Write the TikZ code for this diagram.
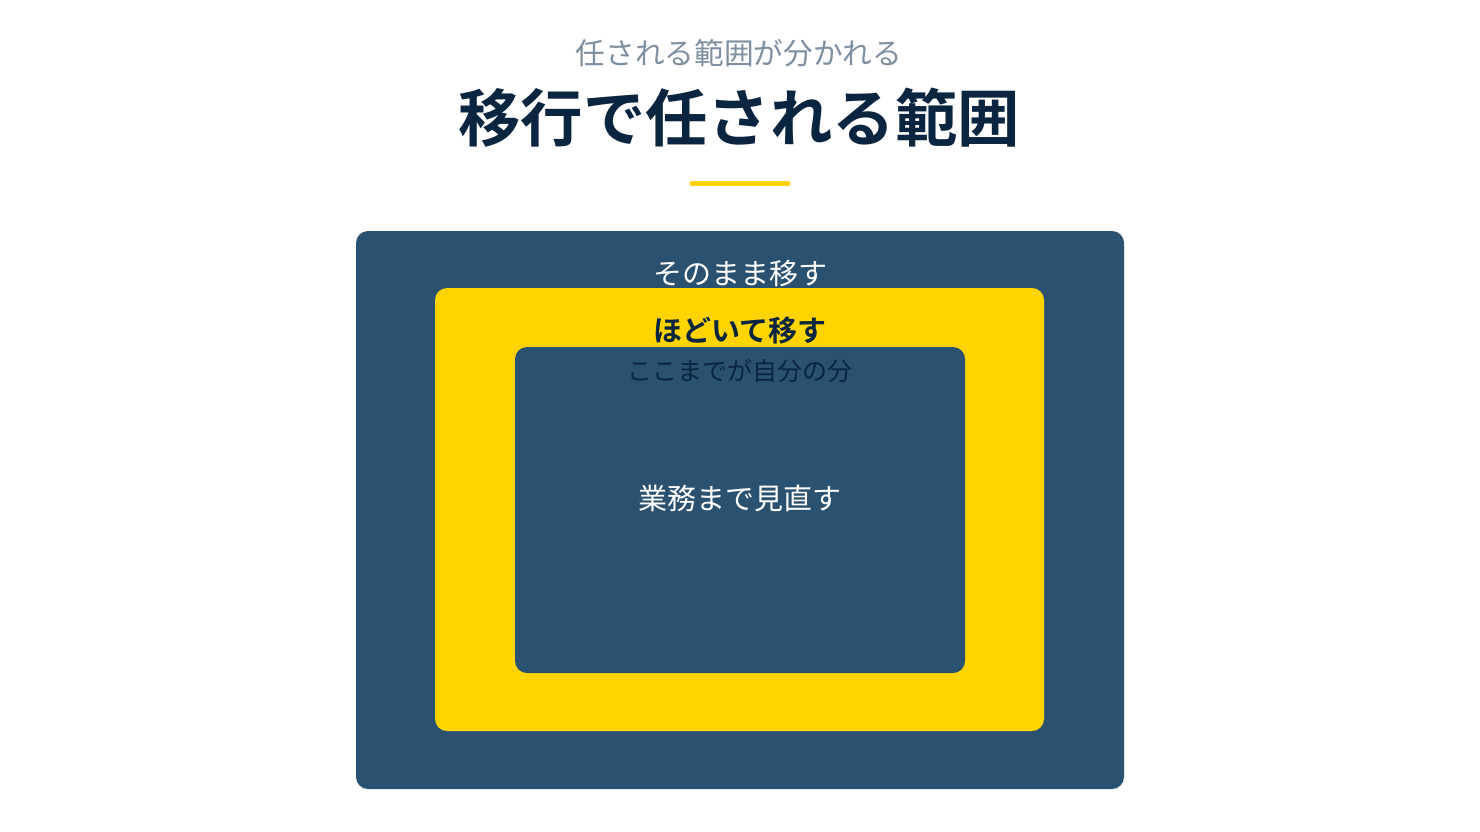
\documentclass[tikz,border=0pt]{standalone}
\usepackage{fontspec}
\newfontfamily\jpfont{Noto Sans CJK JP}
\newfontfamily\jpbold{Noto Sans CJK JP Bold}
\definecolor{boxblue}{HTML}{2B5170}
\definecolor{boxyellow}{HTML}{FFD400}
\definecolor{navy}{HTML}{0A2540}
\definecolor{subgray}{HTML}{7D8FA0}
\tikzset{
  box/.style={rounded corners=12pt},
  label/.style={inner sep=0pt,font=\jpfont\fontsize{29}{29}\selectfont}
}
\begin{document}
\begin{tikzpicture}[x=1pt,y=-1pt]
  \useasboundingbox[fill=white] (0,0) rectangle (1480,832);
  \node[inner sep=0pt,text=subgray,font=\jpfont\fontsize{29.7}{29.7}\selectfont] (sub) at (739,53) {任される範囲が分かれる};
  \node[inner sep=0pt,text=navy,font=\jpbold\fontsize{62.4}{62.4}\selectfont] (title) at (739,118) {移行で任される範囲};
  \draw[boxyellow,line width=5pt,line cap=round] (692,183.5) -- (788,183.5);
  \fill[box,boxblue] (356,231) rectangle (1124,789);
  \fill[box,boxyellow] (435,288) rectangle (1044,731);
  \fill[box,boxblue] (515,347) rectangle (965,673);
  \node[label,text=white] (keep) at (740,273) {そのまま移す};
  \node[label,text=navy,font=\jpbold\fontsize{29}{29}\selectfont] (unpack) at (740,331) {ほどいて移す};
  \node[label,text=navy,font=\jpfont\fontsize{25}{25}\selectfont] (own) at (740,371) {ここまでが自分の分};
  \node[label,text=white] (review) at (740,498) {業務まで見直す};
\end{tikzpicture}
\end{document}
